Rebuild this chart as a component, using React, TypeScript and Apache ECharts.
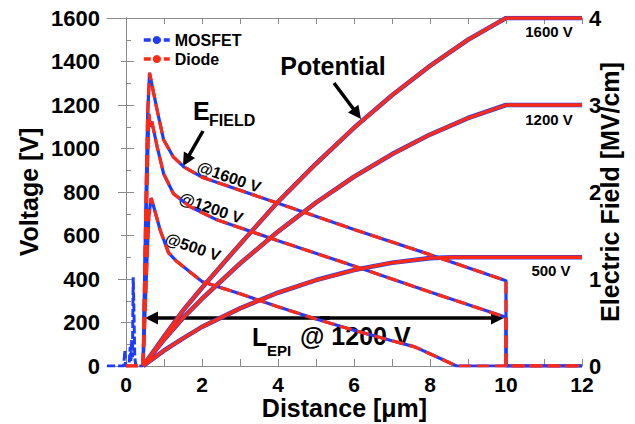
import React, { useEffect, useRef } from "react";
import * as echarts from "echarts";

// ---------- data ----------
// Potential (left axis, V)
const pot1600X = [0.45, 1, 1.5, 2, 3, 4, 5, 6, 7, 8, 9, 10, 12];
const pot1600Y = [0, 135, 255, 360, 560, 755, 930, 1095, 1245, 1380, 1500, 1600, 1600];
const pot1200X = [0.45, 1, 1.5, 2, 3, 4, 5, 6, 7, 8, 9, 10, 12];
const pot1200Y = [0, 121, 221, 309, 471, 618, 751, 870, 974, 1064, 1140, 1200, 1200];
const pot500X = [0.45, 1, 1.5, 2, 3, 4, 5, 6, 7, 8, 8.6, 12];
const pot500Y = [0, 71, 127, 180, 265, 337, 395, 441, 475, 496, 500, 500];

// Electric field (right axis, MV/cm)
const e1600X = [0, 0.45, 0.52, 0.57, 0.62, 0.73, 0.82, 0.99, 1.25, 1.52, 2, 4, 6, 8, 10, 10, 12];
const e1600Y = [0, 0, 1.8, 2.9, 3.37, 3.13, 2.94, 2.6, 2.4, 2.29, 2.17, 1.87, 1.57, 1.28, 0.98, 0, 0];
const e1200X = [0, 0.45, 0.52, 0.6, 0.64, 0.68, 0.82, 0.99, 1.25, 1.69, 2.39, 4, 6, 8, 10, 10, 12];
const e1200Y = [0, 0, 1.5, 2.9, 2.75, 2.81, 2.52, 2.21, 1.98, 1.83, 1.68, 1.44, 1.15, 0.85, 0.56, 0, 0];
const e500X = [0, 0.45, 0.55, 0.6, 0.66, 0.73, 0.9, 1.12, 1.34, 2, 3, 4, 5, 6, 7, 7.6, 8.2, 8.7, 12];
const e500Y = [0, 0, 1.2, 1.72, 1.93, 1.83, 1.56, 1.3, 1.2, 0.97, 0.83, 0.68, 0.54, 0.41, 0.29, 0.22, 0.1, 0, 0];

// MOSFET channel-region field spikes (right axis, MV/cm)
const spikeX = [-0.5, -0.06, -0.03, -0.01, 0.08, 0.11, 0.13, 0.15, 0.17, 0.19, 0.21, 0.23, 0.26, 0.45];
const spikeY = [0, 0, 0.18, 0, 0, 0.22, 0.05, 0.3, 0.1, 1.02, 0.6, 0.1, 0, 0];

// axes
const xLabelValues = [0, 2, 4, 6, 8, 10, 12];
const xTickValues = [0, 1, 2, 3, 4, 5, 6, 7, 8, 9, 10, 11, 12];

const BLUE = "#1e3cff";
const RED = "#ff2a14";
const AXIS = "#8a8a8a";
const FONT = "Liberation Sans";

function curve(name: string, xs: number[], ys: number[], yAxisIndex: number, isE: boolean) {
  const data = xs.map((x, i) => [x, ys[i]]);
  if (name === "MOSFET") {
    return {
      type: "line", name, data, yAxisIndex, symbol: "none", showSymbol: false, silent: true, z: 2,
      lineStyle: { color: BLUE, width: isE ? 3.2 : 4.6, type: "solid" },
      itemStyle: { color: BLUE },
    };
  }
  return {
    type: "line", name, data, yAxisIndex, symbol: "none", showSymbol: false, silent: true, z: 3,
    lineStyle: { color: RED, width: isE ? 3.2 : 3.4, type: isE ? [12, 6] : "solid" },
    itemStyle: { color: RED },
  };
}

function arrow(x1: number, y1: number, x2: number, y2: number, len = 13, w = 6.5) {
  const dx = x2 - x1, dy = y2 - y1;
  const L = Math.hypot(dx, dy);
  const ux = dx / L, uy = dy / L;
  const bx = x2 - ux * len, by = y2 - uy * len;
  return [
    { type: "line", silent: true, shape: { x1, y1, x2: bx + ux * 2, y2: by + uy * 2 }, style: { stroke: "#000", lineWidth: 3.5 } },
    { type: "polygon", silent: true, shape: { points: [[x2, y2], [bx - uy * w, by + ux * w], [bx + uy * w, by - ux * w]] }, style: { fill: "#000" } },
  ];
}

function txt(text: string, x: number, y: number, size: number, align = "left", rotation = 0) {
  return {
    type: "text", silent: true, x, y, rotation,
    style: { text, fontFamily: FONT, fontWeight: "bold", fontSize: size, fill: "#000", align, verticalAlign: "middle" },
  };
}

const plain = (v: number) => String(v);
const axisLabelStyle = { color: "#000", fontFamily: FONT, fontWeight: "bold", fontSize: 22, lineHeight: 20, formatter: plain };
const nameStyle = { color: "#000", fontFamily: FONT, fontWeight: "bold", fontSize: 25, lineHeight: 24 };

export default function App() {
  const ref = useRef<HTMLDivElement>(null);
  useEffect(() => {
    document.body.style.margin = "0";
    const chart = echarts.init(ref.current!, null, { renderer: "svg" });
    const series = [
      { type: "line", name: "MOSFET", data: spikeX.map((x, i) => [x, spikeY[i]]), yAxisIndex: 1, symbol: "none", silent: true, z: 2, lineStyle: { color: BLUE, width: 3, type: [8, 3] }, itemStyle: { color: BLUE } },
      curve("MOSFET", pot1600X, pot1600Y, 0, false),
      curve("MOSFET", pot1200X, pot1200Y, 0, false),
      curve("MOSFET", pot500X, pot500Y, 0, false),
      curve("MOSFET", e1600X.slice(1), e1600Y.slice(1), 1, true),
      curve("MOSFET", e1200X.slice(1), e1200Y.slice(1), 1, true),
      curve("MOSFET", e500X.slice(1), e500Y.slice(1), 1, true),
      curve("Diode", pot1600X, pot1600Y, 0, false),
      curve("Diode", pot1200X, pot1200Y, 0, false),
      curve("Diode", pot500X, pot500Y, 0, false),
      curve("Diode", e1600X, e1600Y, 1, true),
      curve("Diode", e1200X, e1200Y, 1, true),
      curve("Diode", e500X, e500Y, 1, true),
    ];
    const graphic: any[] = [
      txt("Potential", 333, 66, 25, "center"),
      ...arrow(334, 83, 361, 119),
      txt("E", 193, 111, 25),
      txt("FIELD", 209, 120, 16),
      ...arrow(203, 131, 183, 166),
      txt("@1600 V", 229, 177, 16, "center", -0.33),
      txt("@1200 V", 211, 208, 16, "center", -0.33),
      txt("@500 V", 193, 247, 16, "center", -0.33),
      txt("L", 252, 337, 25),
      txt("EPI", 267, 350, 15),
      txt("@ 1200 V", 300, 336, 25),
      ...arrow(330, 318, 145, 318),
      ...arrow(320, 318, 504, 318),
      txt("1600 V", 549, 31, 15, "center"),
      txt("1200 V", 549, 119, 15, "center"),
      txt("500 V", 551, 270, 15, "center"),
    ];
    chart.setOption({
      animation: false,
      backgroundColor: "#fff",
      grid: { left: 107, right: 53, top: 18, bottom: 58, containLabel: false, outerBoundsMode: "none" },
      legend: {
        left: 137, top: 27, orient: "vertical", itemWidth: 26, itemHeight: 10, itemGap: 3,
        textStyle: { color: "#000", fontFamily: FONT, fontWeight: "bold", fontSize: 16 },
        data: [
          { name: "MOSFET", lineStyle: { color: BLUE, width: 3.5, type: [7, 3] }, itemStyle: { color: BLUE } },
          { name: "Diode", lineStyle: { color: RED, width: 3.5, type: [7, 3] }, itemStyle: { color: RED } },
        ],
      },
      xAxis: [
        {
          type: "value", min: -0.5, max: 12, position: "bottom",
          axisLine: { onZero: false, lineStyle: { color: AXIS, width: 1 } },
          axisTick: { inside: true, length: 7, customValues: xTickValues, lineStyle: { color: AXIS } },
          axisLabel: { ...axisLabelStyle, fontSize: 21, lineHeight: 18, customValues: xLabelValues, margin: 9 },
          splitLine: { show: false },
          name: "Distance [μm]", nameLocation: "middle", nameGap: 31, nameMoveOverlap: false,
          nameTextStyle: { ...nameStyle, lineHeight: 22 },
        },
        {
          type: "value", min: -0.5, max: 12, position: "top",
          axisLine: { onZero: false, lineStyle: { color: AXIS, width: 1 } },
          axisTick: { inside: true, length: 6, customValues: xTickValues, lineStyle: { color: AXIS } },
          axisLabel: { show: false },
          splitLine: { show: false },
        },
      ],
      yAxis: [
        {
          type: "value", min: 0, max: 1600, interval: 200, position: "left",
          axisLine: { show: true, lineStyle: { color: AXIS, width: 1 } },
          axisTick: { show: true, inside: true, length: 8, lineStyle: { color: AXIS } },
          minorTick: { show: true, splitNumber: 2, length: 5, lineStyle: { color: AXIS } },
          axisLabel: { ...axisLabelStyle, margin: 7 },
          splitLine: { show: false },
          name: "Voltage [V]", nameLocation: "middle", nameRotate: 90, nameGap: 66, nameMoveOverlap: false, nameTextStyle: nameStyle,
        },
        {
          type: "value", min: 0, max: 4, interval: 1, position: "right",
          axisLine: { show: true, lineStyle: { color: AXIS, width: 1 } },
          axisTick: { show: true, inside: true, length: 8, lineStyle: { color: AXIS } },
          minorTick: { show: true, splitNumber: 2, length: 5, lineStyle: { color: AXIS } },
          axisLabel: { ...axisLabelStyle, margin: 7 },
          splitLine: { show: false },
          name: "Electric Field [MV/cm]", nameLocation: "middle", nameRotate: 90, nameGap: 16, nameMoveOverlap: false, nameTextStyle: nameStyle,
        },
      ],
      series,
      graphic,
    });
    return () => chart.dispose();
  }, []);
  return (
    <div
      ref={ref}
      style={{ position: "fixed", left: 0, top: 0, width: 635, height: 424, background: "#fff" }}
    />
  );
}
